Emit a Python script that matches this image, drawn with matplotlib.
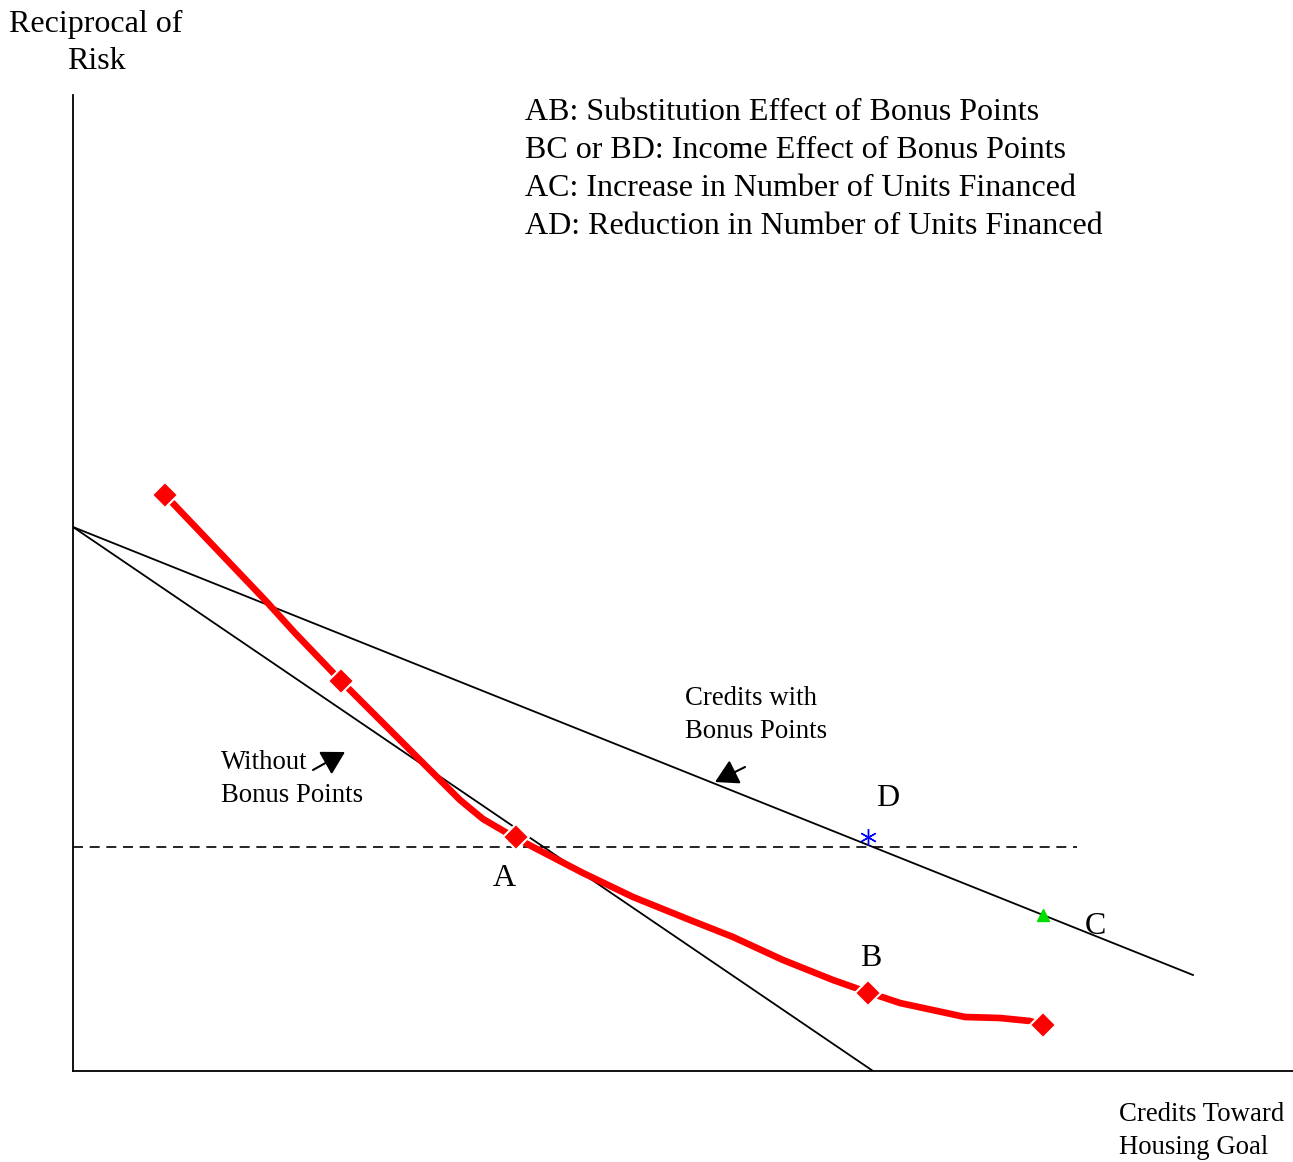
#!/usr/bin/env python3
"""Индифферентная кривая и бюджетные линии: бонусные баллы за жильё."""
import matplotlib
matplotlib.use("Agg")
import matplotlib.pyplot as plt

# coordinates in plot units (origin at the axes corner)
curve_x = [92, 192, 222, 268, 347, 387, 410, 434, 460, 510, 560, 617, 660, 710, 760, 794, 827, 892, 927, 957, 970]
curve_y = [576, 471, 438, 390, 311, 271, 252, 238, 224, 198, 174, 151, 134, 111, 91, 79, 68, 54, 53, 50, 46]
marker_x = [92, 268, 443, 795, 970]
marker_y = [576, 390, 234, 78, 46]

budget_old_x = [0, 800]
budget_old_y = [544, 0]
budget_new_x = [0, 1120]
budget_new_y = [544, 96]
dashed_x = [0, 1004]
dashed_y = [224, 224]

point_d = (795, 234)
point_c = (970, 156)

legend_lines = [
    "AB: Substitution Effect of Bonus Points",
    "BC or BD: Income Effect of Bonus Points",
    "AC: Increase in Number of Units Financed",
    "AD: Reduction in Number of Units Financed",
]

plt.rcParams["font.family"] = ["Liberation Serif", "DejaVu Serif"]

fig = plt.figure(figsize=(12.93, 11.62), dpi=100)
ax = fig.add_axes([73 / 1293, 91 / 1162, 1220 / 1293, 976 / 1162])
ax.set_xlim(0, 1220)
ax.set_ylim(0, 976)
ax.spines["top"].set_visible(False)
ax.spines["right"].set_visible(False)
ax.spines["left"].set_linewidth(1.3)
ax.spines["bottom"].set_linewidth(1.3)
ax.set_xticks([])
ax.set_yticks([])

ax.plot(budget_old_x, budget_old_y, color="black", lw=1.3)
ax.plot(budget_new_x, budget_new_y, color="black", lw=1.3)
ax.plot(dashed_x, dashed_y, color="black", lw=1.2, dashes=(6, 4))

ax.plot(curve_x, curve_y, color="red", lw=4.8, solid_joinstyle="round",
        solid_capstyle="round", zorder=3)
ax.plot(marker_x, marker_y, ls="none", marker="D", ms=13, color="red",
        markeredgecolor="white", markeredgewidth=1.5, zorder=4)

ax.plot([point_d[0]], [point_d[1]], ls="none", marker=(6, 2, 0), ms=12,
        color="blue", markeredgewidth=1.0, zorder=5)
ax.plot([point_c[0]], [point_c[1]], ls="none", marker="^", ms=9,
        color="#00dd00", zorder=5)

ax.text(815, 272, "D", fontsize=23, ha="center", va="center")
ax.text(431, 192, "A", fontsize=23, ha="center", va="center")
ax.text(798, 112, "B", fontsize=23, ha="center", va="center")
ax.text(1022, 144, "C", fontsize=23, ha="center", va="center")

arrow = dict(arrowstyle="-|>,head_length=0.7,head_width=0.4", color="black",
             lw=1.5, mutation_scale=20, shrinkA=0, shrinkB=0)

ax.text(148, 292, "Without\nBonus Points", fontsize=19.3, ha="left", va="center",
        linespacing=1.37)
ax.annotate("", xy=(272, 319), xytext=(240, 301), arrowprops=arrow)

ax.text(612, 356, "Credits with\nBonus Points", fontsize=19.3, ha="left", va="center",
        linespacing=1.37)
ax.annotate("", xy=(642, 289), xytext=(672, 304), arrowprops=arrow)

for i, line in enumerate(legend_lines):
    fig.text(525 / 1293, 1 - (112 + 38.3 * i) / 1162, line, fontsize=23,
             ha="left", va="center")

fig.text(96 / 1293, 1 - 43 / 1162, "Reciprocal of\nRisk", fontsize=23,
         ha="center", va="center", linespacing=1.4)
fig.text(1119 / 1293, 1 - 1131 / 1162, "Credits Toward\nHousing Goal", fontsize=19.3,
         ha="left", va="center", linespacing=1.37)

fig.savefig("out.png", dpi=100)
